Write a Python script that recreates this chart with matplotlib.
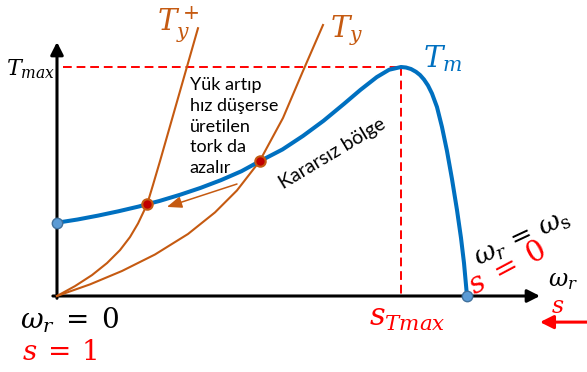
import matplotlib.pyplot as plt
from matplotlib.patches import FancyArrowPatch

plt.rcParams['mathtext.fontset'] = 'dejavuserif'

# speed in % of synchronous speed, torque in % of T_max
speed_m = [0, 5, 10, 15, 20, 22, 25, 30, 35, 40, 45, 49.4, 55, 60, 65, 70, 74, 78, 81, 83.9,
           85.12, 86.34, 87.56, 88.54, 89.51, 90.49, 91.46, 92.68, 93.9, 95.12, 96.34,
           97.56, 98.54, 99.27, 100]
torque_m = [32.0, 33.4, 35.1, 37.0, 39.1, 40.1, 41.5, 44.2, 47.2, 50.6, 54.5, 58.8, 64.0,
            69.9, 76.5, 83.9, 90.0, 95.6, 98.8, 100, 99.78, 99.13, 97.9, 96.51, 94.54,
            91.92, 88.43, 82.53, 73.8, 63.32, 51.09, 37.55, 25.33, 14.41, 0]

# load torque curves
speed_yp = [0, 4.39, 8.54, 12.2, 15.37, 17.8, 19.76, 22.0, 23.41, 25.12, 27.56, 30.0, 32.44, 34.39]
torque_yp = [0, 4.32, 9.13, 14.37, 20.04, 25.72, 31.66, 40.1, 48.47, 58.86, 74.15, 89.43,
             104.72, 116.94]
speed_y = [0, 8.05, 15.85, 23.9, 31.95, 38.54, 43.9, 49.4, 55.12, 60.0, 64.88]
torque_y = [0, 5.07, 10.92, 18.12, 27.07, 36.51, 46.11, 58.8, 77.73, 98.25, 118.34]

# operating points (T_m = T_y)
op_speed = [22.0, 49.4]
op_torque = [40.1, 58.8]

t_max = 100
s_tmax_speed = 83.9

blue = '#0070C0'
orange = '#C55A11'
red = '#FF0000'

fig = plt.figure(figsize=(5.87, 3.72), dpi=100)
ax = fig.add_axes([0, 0, 1, 1])
ax.set_xlim(-13.9, 129.27)
ax.set_ylim(-33.19, 129.26)
ax.axis('off')

# axes with arrow heads
for a, b in [((0, -1), (0, 110.9)), ((-1, 0), (117.8, 0))]:
    ax.add_patch(FancyArrowPatch(a, b, arrowstyle='-|>,head_length=0.75,head_width=0.38',
                                 mutation_scale=10, lw=2.2, color='black',
                                 shrinkA=0, shrinkB=0, zorder=2))

# T_max guides
ax.plot([1.5, s_tmax_speed], [t_max, t_max], color=red, lw=1.4, ls=(0, (4.5, 2.5)), zorder=1)
ax.plot([s_tmax_speed, s_tmax_speed], [t_max, 0], color=red, lw=1.4, ls=(0, (4.5, 2.5)), zorder=1)

ax.plot(speed_yp, torque_yp, color=orange, lw=1.5, zorder=3)
ax.plot(speed_y, torque_y, color=orange, lw=1.5, zorder=3)
ax.plot(speed_m, torque_m, color=blue, lw=2.9, solid_capstyle='round',
        solid_joinstyle='round', zorder=4)

ax.plot([speed_m[0], speed_m[-1]], [torque_m[0], torque_m[-1]], 'o', ms=7.5,
        mfc='#5B9BD5', mec='#41719C', mew=1, zorder=5)
ax.plot(op_speed, op_torque, 'o', ms=7.5, mfc='#C00000', mec=orange, mew=1.5, zorder=5)

# speed drop arrow along the curve
ax.add_patch(FancyArrowPatch((43.9, 48.9), (26.8, 38.9),
                             arrowstyle='-|>,head_length=0.9,head_width=0.35',
                             mutation_scale=10, lw=1.1, color=orange,
                             shrinkA=0, shrinkB=0, zorder=3))
# slip direction arrow
ax.add_patch(FancyArrowPatch((129.3, -11.4), (117.8, -11.4),
                             arrowstyle='-|>,head_length=0.8,head_width=0.4',
                             mutation_scale=10, lw=2.2, color=red,
                             shrinkA=0, shrinkB=0, zorder=3))

ax.text(-0.4, 99.0, r'$T_{max}$', fontsize=16, ha='right', va='center')
ax.text(24.3, 118.5, r'$T_y^+$', fontsize=21, color=orange, ha='left', va='center')
ax.text(66.5, 116.0, r'$T_y$', fontsize=21, color=orange, ha='left', va='center')
ax.text(89.3, 103.5, r'$T_m$', fontsize=21, color=blue, ha='left', va='center')

ax.text(32.4, 95.8, 'Yük artıp\nhız düşerse\nüretilen\ntork da\nazalır',
        fontsize=13, family='Lato', ha='left', va='top', linespacing=1.38)
ax.text(67.2, 62.0, 'Kararsız bölge', fontsize=14, family='Lato', rotation=31,
        rotation_mode='anchor', ha='center', va='center')

ax.text(113.6, 25.3, r'$\omega_r\,=\,\omega_\mathrm{s}$', fontsize=19, rotation=25,
        rotation_mode='anchor', ha='center', va='center')
ax.text(110.0, 12.0, r'$s\;=\;0$', fontsize=21, color=red, rotation=28,
        rotation_mode='anchor', ha='center', va='center')
ax.text(123.4, 6.8, r'$\omega_r$', fontsize=17, ha='center', va='center')
ax.text(122.2, -4.2, r'$s$', fontsize=17, color=red, ha='center', va='center')

ax.text(85.4, -10.0, r'$s_{Tmax}$', fontsize=22, color=red, ha='center', va='center')
ax.text(-9.0, -10.5, r'$\omega_r\;=\;0$', fontsize=20, ha='left', va='center')
ax.text(-8.5, -24.5, r'$s\:=\:1$', fontsize=20, color=red, ha='left', va='center')

fig.savefig('out.png', dpi=100)
